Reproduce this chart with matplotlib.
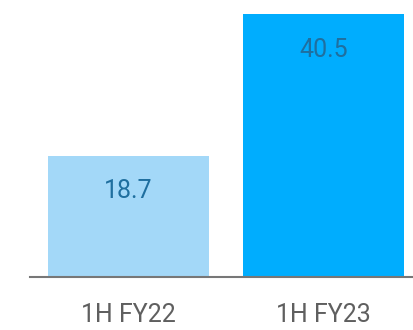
import matplotlib
matplotlib.use("Agg")
import matplotlib.pyplot as plt

# data
periods = ["1H FY22", "1H FY23"]
values = [18.7, 40.5]
bar_colors = ["#a3d8f8", "#00adfe"]

plt.rcParams["font.family"] = ["Roboto", "DejaVu Sans"]

fig = plt.figure(figsize=(4.13, 3.30), dpi=100)
ax = fig.add_axes([30 / 413, (330 - 276.7) / 330, 383 / 413, 276.7 / 330])

x = list(range(len(periods)))
bars = ax.bar(x, values, width=0.826, color=bar_colors, zorder=2)

# value labels inside bars, near the top
for xi, v in zip(x, values):
    ax.annotate(f"{v}", xy=(xi, v), xytext=(0, -25.5), textcoords="offset points",
                ha="center", va="center", fontsize=18, color="#1f6f9f")

ax.set_xlim(-0.505, 1.459)
ax.set_ylim(0, 42.7)

ax.set_xticks(x)
ax.set_xticklabels(periods, fontsize=18, color="#5f5f5f")
ax.tick_params(axis="x", length=0, pad=19)
ax.set_yticks([])

for side in ["top", "right", "left"]:
    ax.spines[side].set_visible(False)
ax.spines["bottom"].set_color("#777777")
ax.spines["bottom"].set_linewidth(1.5)
ax.spines["bottom"].set_zorder(3)

fig.savefig("out.png", dpi=100)
